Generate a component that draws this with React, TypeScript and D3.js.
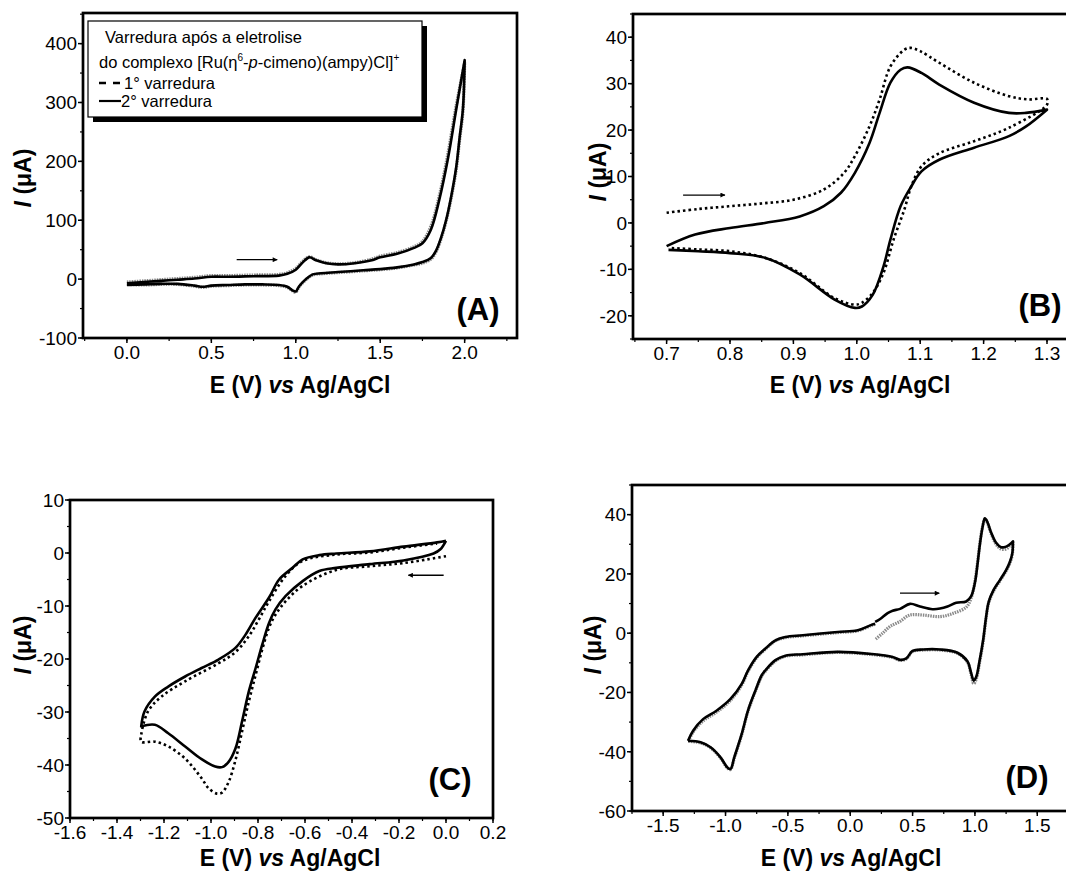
import React from 'react';
import * as d3 from 'd3';

// ---------- Panel A data (E in V, I in µA) ----------
const aFwdE = [0, 0.1, 0.2, 0.3, 0.4, 0.5, 0.6, 0.75, 0.9, 0.95, 1.0, 1.04, 1.08, 1.12, 1.18, 1.25, 1.35, 1.45, 1.5, 1.6, 1.7, 1.75, 1.8, 1.85, 1.9, 1.95, 2.0];
const aFwdI2 = [-7, -5, -3, -1, 1, 4, 4, 5, 6, 9, 16, 28, 37, 32, 27, 25, 27, 32, 37, 43, 53, 61, 84, 135, 203, 288, 372];
const aFwdI1 = [-5, -3, -1, 1, 3, 6, 6, 7, 8, 11, 18, 30, 38, 33, 28, 26, 28, 34, 39, 45, 55, 64, 90, 142, 212, 295, 368];
const aRevE = [2.0, 1.99, 1.97, 1.95, 1.92, 1.89, 1.86, 1.83, 1.8, 1.75, 1.7, 1.6, 1.5, 1.4, 1.25, 1.15, 1.1, 1.06, 1.02, 1.0, 0.98, 0.95, 0.9, 0.8, 0.7, 0.6, 0.5, 0.45, 0.4, 0.3, 0.2, 0.1, 0];
const aRevI2 = [372, 290, 240, 190, 140, 100, 70, 48, 36, 29, 25, 20, 17, 15, 12, 10, 8, 0, -12, -21, -19, -13, -10, -9, -9, -10, -11, -13, -11, -8, -8, -9, -10];
const aRevI1 = [368, 285, 236, 186, 137, 98, 68, 46, 34, 27, 24, 19, 16, 14, 11, 9, 7, -1, -13, -22, -20, -14, -11, -10, -10, -11, -12, -14, -12, -9, -9, -10, -9];
const aXTicks = [0, 0.5, 1.0, 1.5, 2.0];
const aYTicks = [-100, 0, 100, 200, 300, 400];

// ---------- Panel B data ----------
const bFwdE1 = [0.7, 0.75, 0.8, 0.85, 0.9, 0.948, 0.98, 0.997, 1.02, 1.036, 1.053, 1.075, 1.085, 1.1, 1.13, 1.185, 1.24, 1.27, 1.3];
const bFwdI1 = [2.2, 3.0, 3.6, 4.2, 5.0, 7.2, 10.8, 14.4, 20.8, 26.6, 33.7, 37.3, 37.7, 37.0, 34.5, 30.2, 27.3, 26.6, 26.7];
const bRevE1 = [1.3, 1.24, 1.185, 1.13, 1.102, 1.086, 1.075, 1.058, 1.042, 1.025, 1.008, 0.997, 0.965, 0.91, 0.855, 0.8, 0.75, 0.703];
const bRevI1 = [25.5, 20.5, 17.6, 15.0, 12.2, 7.9, 2.9, -3.6, -10.8, -15.1, -17.2, -17.6, -16.2, -10.8, -7.5, -6.1, -5.7, -5.4];
const bFwdE2 = [0.7, 0.745, 0.8, 0.855, 0.91, 0.948, 0.975, 0.997, 1.02, 1.036, 1.053, 1.069, 1.08, 1.102, 1.13, 1.185, 1.24, 1.267, 1.3];
const bFwdI2 = [-5, -2.5, -1.1, 0, 1.4, 3.6, 6.5, 10.8, 17.2, 23.7, 30.2, 33.0, 33.5, 32.3, 29.8, 25.9, 23.7, 23.7, 24.4];
const bRevE2 = [1.3, 1.267, 1.24, 1.185, 1.13, 1.102, 1.086, 1.069, 1.053, 1.042, 1.025, 1.008, 0.997, 0.965, 0.91, 0.855, 0.8, 0.75, 0.703];
const bRevI2 = [24.4, 20.8, 18.7, 16.2, 13.6, 11.1, 7.9, 3.6, -3.6, -9.4, -15.5, -18.0, -18.3, -16.5, -11.1, -7.5, -6.5, -6.1, -5.8];
const bXTicks = [0.7, 0.8, 0.9, 1.0, 1.1, 1.2, 1.3];
const bYTicks = [-20, -10, 0, 10, 20, 30, 40];

// ---------- Panel C data ----------
const cFwdE2 = [0.0, -0.024, -0.053, -0.181, -0.324, -0.467, -0.539, -0.61, -0.682, -0.725, -0.753, -0.782, -0.81, -0.839, -0.868, -0.896, -0.925, -0.953, -0.982, -1.04, -1.11, -1.182, -1.239, -1.297];
const cFwdI2 = [2.3, 0.7, -0.1, -1.4, -2.1, -2.8, -3.4, -5.3, -8.1, -10.6, -13.2, -17.3, -21.7, -26.1, -31.8, -36.9, -39.4, -40.4, -40.3, -38.9, -36.5, -34.0, -32.4, -32.7];
const cRevE2 = [-1.297, -1.283, -1.239, -1.182, -1.11, -1.04, -0.968, -0.896, -0.853, -0.81, -0.753, -0.71, -0.653, -0.61, -0.539, -0.467, -0.324, -0.181, -0.038, 0.0];
const cRevI2 = [-32.7, -29.9, -27.1, -25.2, -23.3, -21.7, -20.1, -17.9, -15.4, -12.2, -8.4, -5.0, -2.8, -1.2, -0.4, -0.1, 0.3, 1.2, 2.0, 2.3];
const cFwdE1 = [0.0, -0.181, -0.324, -0.467, -0.61, -0.682, -0.725, -0.753, -0.782, -0.81, -0.839, -0.868, -0.896, -0.925, -0.953, -0.975, -1.01, -1.04, -1.11, -1.182, -1.239, -1.297];
const cFwdI1 = [-0.6, -1.9, -2.5, -3.2, -6.2, -9.1, -11.6, -14.1, -18.2, -23.0, -28.0, -33.7, -39.1, -43.2, -45.2, -45.4, -44.4, -42.5, -38.8, -36.5, -35.6, -35.6];
const cRevE1 = [-1.297, -1.268, -1.211, -1.11, -0.968, -0.896, -0.839, -0.796, -0.753, -0.682, -0.61, -0.467, -0.324, -0.181, -0.038];
const cRevI1 = [-34.3, -29.9, -27.1, -24.2, -20.8, -18.7, -15.7, -12.5, -9.1, -4.3, -1.5, -0.3, 0.1, 1.0, 1.8];
const cXTicks = [-1.6, -1.4, -1.2, -1.0, -0.8, -0.6, -0.4, -0.2, 0.0, 0.2];
const cYTicks = [-50, -40, -30, -20, -10, 0, 10];

// ---------- Panel D data ----------
const dFwdE2 = [0.2, 0.24, 0.3, 0.34, 0.4, 0.48, 0.56, 0.66, 0.72, 0.78, 0.85, 0.93, 0.97, 1.0, 1.02, 1.04, 1.06, 1.08, 1.1, 1.13, 1.17, 1.21, 1.25, 1.28, 1.305];
const dFwdI2 = [3.8, 4.8, 6.8, 7.6, 8.2, 9.9, 9.0, 8.1, 8.3, 9.0, 10.3, 10.7, 12.5, 17, 23, 30, 35.5, 38.8, 37.5, 34, 30.5, 29, 29.2, 30, 31];
const dRevE2 = [1.305, 1.3, 1.28, 1.25, 1.2, 1.15, 1.11, 1.09, 1.066, 1.038, 1.01, 0.99, 0.97, 0.94, 0.86, 0.72, 0.585, 0.5, 0.45, 0.4, 0.34, 0.17, -0.1, -0.38, -0.52, -0.6, -0.68, -0.71, -0.76, -0.82, -0.87, -0.93, -0.96, -0.985, -1.04, -1.12, -1.2, -1.3];
const dRevI2 = [31, 27, 24, 21.3, 17.9, 14.6, 10.5, 5.6, -2.3, -9.1, -14.8, -16, -13.5, -9.5, -6.6, -5.5, -5.5, -6.0, -8.5, -9.0, -8.0, -7.0, -6.3, -7.1, -7.6, -9.1, -12.5, -14.2, -19.3, -26.1, -34, -41.9, -45.8, -45.3, -41.9, -38.5, -36.8, -36.3];
const dRetE2 = [-1.3, -1.26, -1.18, -1.07, -0.96, -0.87, -0.82, -0.75, -0.68, -0.6, -0.52, -0.38, -0.1, 0.06, 0.17, 0.2];
const dRetI2 = [-36.3, -32.9, -29, -26.1, -22.2, -17.1, -12.6, -8.0, -5.2, -2.4, -1.3, -0.7, 0.4, 1.0, 2.8, 3.2];
const dFwdE1 = [0.205, 0.26, 0.317, 0.396, 0.477, 0.585, 0.72, 0.826, 0.933, 0.973, 1.0, 1.02, 1.04, 1.06, 1.08, 1.1, 1.13, 1.17, 1.21, 1.25, 1.28, 1.305];
const dFwdI1 = [-2.0, 0, 2.2, 3.9, 6.1, 6.1, 5.6, 6.7, 8.9, 12.3, 17.5, 23.5, 30.5, 35.8, 38.6, 37.2, 33.6, 30, 28.4, 28.4, 29.5, 30.6];
const dRevE1 = [1.305, 1.3, 1.28, 1.25, 1.2, 1.15, 1.11, 1.09, 1.066, 1.038, 1.01, 0.99, 0.97, 0.94, 0.86, 0.72, 0.585, 0.5, 0.45, 0.4, 0.34, 0.17, -0.1, -0.38, -0.52, -0.6, -0.68, -0.71, -0.76, -0.82, -0.87, -0.93, -0.96, -0.985, -1.04, -1.12, -1.2, -1.3];
const dRevI1 = [30.6, 26.6, 23.6, 21.0, 17.6, 14.3, 10.2, 5.2, -2.8, -9.8, -15.6, -17, -14, -9.8, -6.8, -5.7, -5.7, -6.2, -8.7, -9.2, -8.2, -7.2, -6.5, -7.3, -7.8, -9.4, -12.8, -14.5, -19.6, -26.4, -34.3, -42.2, -46.0, -45.5, -42.1, -38.7, -37.0, -36.5];
const dRetE1 = [-1.3, -1.26, -1.18, -1.07, -0.96, -0.87, -0.82, -0.75, -0.68, -0.6, -0.52, -0.38, -0.1, 0.06, 0.17, 0.2];
const dRetI1 = [-36.5, -33.4, -29.6, -26.6, -22.7, -17.5, -12.9, -8.3, -5.4, -2.6, -1.5, -0.9, 0.2, 0.8, 2.6, 3.0];
const dXTicks = [-1.5, -1.0, -0.5, 0.0, 0.5, 1.0, 1.5];
const dYTicks = [-60, -40, -20, 0, 20, 40];

type Pt = [number, number];
const zip = (e: number[], i: number[]): Pt[] => e.map((v, k) => [v, i[k]] as Pt);

const FONT = "'Liberation Sans', Arial, Helvetica, sans-serif";

interface Series { pts: Pt[]; kind: 'solid' | 'dotted' | 'grayDotted' | 'dashed'; }

interface PanelProps {
  box: { left: number; top: number; right: number; bottom: number };
  xDomain: [number, number];
  yDomain: [number, number];
  xTicks: number[];
  yTicks: number[];
  xMinor: number;
  yMinor: number;
  xFmt: (v: number) => string;
  yFmt: (v: number) => string;
  series: Series[];
  label: string;
  labelPos: [number, number];
  arrow: { from: Pt; to: Pt };
  xTitle: [number, number];
  yTitle: [number, number];
  children?: React.ReactNode;
}

function Panel(p: PanelProps) {
  const { box } = p;
  const x = d3.scaleLinear().domain(p.xDomain).range([box.left, box.right]);
  const y = d3.scaleLinear().domain(p.yDomain).range([box.bottom, box.top]);
  const line = d3.line<Pt>().x(d => x(d[0])).y(d => y(d[1])).curve(d3.curveCatmullRom.alpha(0.5));

  const minorX: number[] = [];
  for (let v = Math.ceil(p.xDomain[0] / p.xMinor) * p.xMinor; v <= p.xDomain[1] + 1e-9; v += p.xMinor) minorX.push(v);
  const minorY: number[] = [];
  for (let v = Math.ceil(p.yDomain[0] / p.yMinor) * p.yMinor; v <= p.yDomain[1] + 1e-9; v += p.yMinor) minorY.push(v);

  const styleFor = (k: Series['kind']) => {
    switch (k) {
      case 'solid': return { stroke: '#000', strokeWidth: 2.6 };
      case 'dotted': return { stroke: '#000', strokeWidth: 2.6, strokeDasharray: '2.5,3' };
      case 'dashed': return { stroke: '#000', strokeWidth: 2.4, strokeDasharray: '5,3' };
      case 'grayDotted': return { stroke: '#8a8a8a', strokeWidth: 3.2, strokeDasharray: '1.5,1' };
    }
  };

  return (
    <g>
      {p.series.map((s, k) => (
        <path key={k} d={line(s.pts) || ''} fill="none" {...styleFor(s.kind)} strokeLinejoin="round" />
      ))}
      <rect x={box.left} y={box.top} width={box.right - box.left} height={box.bottom - box.top}
        fill="none" stroke="#000" strokeWidth={2.7} />
      {minorX.map((v, k) => (
        <line key={'mx' + k} x1={x(v)} x2={x(v)} y1={box.bottom} y2={box.bottom + 3} stroke="#000" strokeWidth={1.2} />
      ))}
      {minorY.map((v, k) => (
        <line key={'my' + k} x1={box.left} x2={box.left - 3} y1={y(v)} y2={y(v)} stroke="#000" strokeWidth={1.2} />
      ))}
      {p.xTicks.map((v, k) => (
        <g key={'xt' + k}>
          <line x1={x(v)} x2={x(v)} y1={box.bottom} y2={box.bottom + 5} stroke="#000" strokeWidth={1.5} />
          <text x={x(v)} y={box.bottom + 21} textAnchor="middle" fontSize={19} fontFamily={FONT}>{p.xFmt(v)}</text>
        </g>
      ))}
      {p.yTicks.map((v, k) => (
        <g key={'yt' + k}>
          <line x1={box.left} x2={box.left - 5} y1={y(v)} y2={y(v)} stroke="#000" strokeWidth={1.5} />
          <text x={box.left - 6} y={y(v)} dy="0.36em" textAnchor="end" fontSize={19} fontFamily={FONT}>{p.yFmt(v)}</text>
        </g>
      ))}
      <line x1={x(p.arrow.from[0])} y1={y(p.arrow.from[1])} x2={x(p.arrow.to[0])} y2={y(p.arrow.to[1])}
        stroke="#000" strokeWidth={1.3} markerEnd="url(#arrowHead)" />
      <text x={p.labelPos[0]} y={p.labelPos[1]} fontSize={31} fontWeight="bold" fontFamily={FONT} textAnchor="middle">{p.label}</text>
      <text x={p.xTitle[0]} y={p.xTitle[1]} fontSize={23} fontWeight="bold" fontFamily={FONT} textAnchor="middle">
        E (V) <tspan fontStyle="italic">vs</tspan> Ag/AgCl
      </text>
      <text transform={`translate(${p.yTitle[0]},${p.yTitle[1]}) rotate(-90)`} fontSize={23} fontWeight="bold"
        fontFamily={FONT} textAnchor="middle">
        <tspan fontStyle="italic">I</tspan> (μA)
      </text>
      {p.children}
    </g>
  );
}

const f1 = (v: number) => (v < 0 ? '-' : '') + Math.abs(v).toFixed(1);
const f0 = (v: number) => (v < 0 ? '-' : '') + Math.abs(v).toFixed(0);

export default function App() {
  return (
    <svg width={1066} height={873} style={{ position: 'absolute', left: 0, top: 0, background: '#fff' }}>
      <defs>
        <marker id="arrowHead" viewBox="0 0 10 10" refX="9" refY="5" markerWidth="7" markerHeight="5" orient="auto" markerUnits="userSpaceOnUse">
          <path d="M0,0 L10,5 L0,10 z" fill="#000" />
        </marker>
      </defs>
      <rect x={0} y={0} width={1066} height={873} fill="#fff" />

      {/* Panel A */}
      <Panel
        box={{ left: 83, top: 13, right: 517, bottom: 338 }}
        xDomain={[-0.26, 2.31]} yDomain={[-100, 452]}
        xTicks={aXTicks} yTicks={aYTicks} xMinor={0.25} yMinor={50}
        xFmt={f1} yFmt={f0}
        series={[
          { pts: zip(aFwdE, aFwdI1).concat(zip(aRevE, aRevI1)), kind: 'grayDotted' },
          { pts: zip(aFwdE, aFwdI2).concat(zip(aRevE, aRevI2)), kind: 'solid' },
        ]}
        label="(A)" labelPos={[478, 320]}
        arrow={{ from: [0.65, 33], to: [0.89, 33] }}
        xTitle={[300, 393]} yTitle={[31, 178]}
      >
        <g>
          <rect x={93} y={26} width={334} height={96} fill="#000" />
          <rect x={88} y={21} width={334} height={96} fill="#fff" stroke="#000" strokeWidth={1.2} />
          <text x={105} y={43} fontSize={16.5} fontFamily={FONT}>Varredura após a eletrolise</text>
          <text x={99} y={68} fontSize={16.5} fontFamily={FONT}>
            do complexo [Ru(η<tspan dy={-7} fontSize={10}>6</tspan><tspan dy={7}>-</tspan><tspan fontStyle="italic">p</tspan>-cimeno)(ampy)Cl]<tspan dy={-7} fontSize={10}>+</tspan>
          </text>
          <line x1={99} x2={120} y1={83} y2={83} stroke="#000" strokeWidth={2.6} strokeDasharray="7,7" />
          <text x={124} y={89} fontSize={16.5} fontFamily={FONT}>1° varredura</text>
          <line x1={99} x2={121} y1={101} y2={101} stroke="#000" strokeWidth={2.2} />
          <text x={121} y={107} fontSize={16.5} fontFamily={FONT}>2° varredura</text>
        </g>
      </Panel>

      {/* Panel B */}
      <Panel
        box={{ left: 633, top: 14, right: 633 + 634 * 0.703, bottom: 339 }}
        xDomain={[0.647, 1.35]} yDomain={[-25, 45]}
        xTicks={bXTicks} yTicks={bYTicks} xMinor={0.05} yMinor={5}
        xFmt={f1} yFmt={f0}
        series={[
          { pts: zip(bFwdE1, bFwdI1).concat(zip(bRevE1, bRevI1)), kind: 'dotted' },
          { pts: zip(bFwdE2, bFwdI2).concat(zip(bRevE2, bRevI2)), kind: 'solid' },
        ]}
        label="(B)" labelPos={[1040, 316]}
        arrow={{ from: [0.726, 6], to: [0.792, 6] }}
        xTitle={[860, 393]} yTitle={[606, 172]}
      />

      {/* Panel C */}
      <Panel
        box={{ left: 70, top: 500, right: 493, bottom: 818 }}
        xDomain={[-1.6, 0.2]} yDomain={[-50, 10]}
        xTicks={cXTicks} yTicks={cYTicks} xMinor={0.1} yMinor={5}
        xFmt={f1} yFmt={f0}
        series={[
          { pts: zip(cFwdE1, cFwdI1).concat(zip(cRevE1, cRevI1)), kind: 'dotted' },
          { pts: zip(cFwdE2, cFwdI2).concat(zip(cRevE2, cRevI2)), kind: 'solid' },
        ]}
        label="(C)" labelPos={[450, 790]}
        arrow={{ from: [-0.01, -4.2], to: [-0.16, -4.2] }}
        xTitle={[290, 866]} yTitle={[31, 645]}
      />

      {/* Panel D */}
      <Panel
        box={{ left: 632, top: 485, right: 632 + 124.7 * 3.5, bottom: 811 }}
        xDomain={[-1.75, 1.75]} yDomain={[-60, 50]}
        xTicks={dXTicks} yTicks={dYTicks} xMinor={0.25} yMinor={10}
        xFmt={f1} yFmt={f0}
        series={[
          { pts: zip(dFwdE1, dFwdI1).concat(zip(dRevE1, dRevI1)).concat(zip(dRetE1, dRetI1)), kind: 'grayDotted' },
          { pts: zip(dFwdE2, dFwdI2).concat(zip(dRevE2, dRevI2)), kind: 'solid' },
          { pts: zip(dRetE2, dRetI2), kind: 'solid' },
        ]}
        label="(D)" labelPos={[1027, 788]}
        arrow={{ from: [0.399, 13.5], to: [0.714, 13.5] }}
        xTitle={[851, 866]} yTitle={[601, 645]}
      />
    </svg>
  );
}
